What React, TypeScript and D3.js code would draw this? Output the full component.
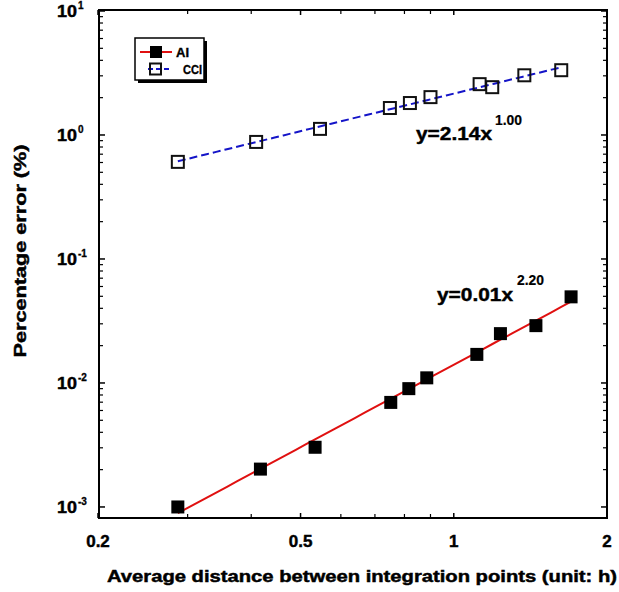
import React from "react";
import * as d3 from "d3";

// ---- data ----
const aiX = [0.287, 0.417, 0.534, 0.752, 0.816, 0.885, 1.11, 1.235, 1.45, 1.70];
const aiY = [0.001, 0.00202, 0.00303, 0.00697, 0.0090, 0.011, 0.017, 0.025, 0.029, 0.0495];
const cciX = [0.287, 0.409, 0.546, 0.749, 0.82, 0.90, 1.124, 1.19, 1.376, 1.626];
const cciY = [0.607, 0.879, 1.12, 1.65, 1.81, 2.02, 2.57, 2.43, 3.03, 3.33];
const xTickLabels = [0.2, 0.5, 1, 2];
const xMinorTicks = [0.3, 0.4, 0.6, 0.7, 0.8, 0.9];
const yDecades = [-3, -2, -1, 0, 1];
const aiEquation = { base: "y=0.01x", exp: "2.20" };
const cciEquation = { base: "y=2.14x", exp: "1.00" };
const seriesNames = ["AI", "CCI"];

const W = 619, H = 592;
const L = 99, R = 607, T = 10, B = 518;
const FONT = "'Liberation Sans', Arial, sans-serif";
const RED = "#e01010";
const BLUE = "#1414c8";
const heavy = { fontWeight: "bold" as const, stroke: "#000", strokeWidth: 0.45 };

function fitPower(xs: number[], ys: number[]) {
  const lx = xs.map(Math.log10), ly = ys.map(Math.log10);
  const mx = d3.mean(lx)!, my = d3.mean(ly)!;
  let sxy = 0, sxx = 0;
  lx.forEach((v, i) => { sxy += (v - mx) * (ly[i] - my); sxx += (v - mx) * (v - mx); });
  const b = sxy / sxx;
  const a = my - b * mx;
  return (x: number) => Math.pow(10, a + b * Math.log10(x));
}

export default function App() {
  const x = d3.scaleLog().domain([0.2, 2]).range([98, 607]);
  const y = d3.scaleLog().domain([Math.pow(10, -3.089), Math.pow(10, 1.008)]).range([B, T]);

  const aiFit = fitPower(aiX, aiY);
  const cciFit = fitPower(cciX, cciY);
  const lineGen = (f: (v: number) => number, xs: number[]) => {
    const lo = d3.min(xs)!, hi = d3.max(xs)!;
    const pts = d3.range(0, 41).map((i) => lo * Math.pow(hi / lo, i / 40));
    return d3.line<number>().x((v) => x(v)).y((v) => y(f(v)))(pts) || "";
  };

  const yMinor: number[] = [];
  yDecades.slice(0, -1).forEach((d) => {
    for (let k = 2; k <= 9; k++) yMinor.push(k * Math.pow(10, d));
  });

  const sq = 13;

  return (
    <svg width={W} height={H} style={{ position: "absolute", left: 0, top: 0, background: "#fff" }} fontFamily={FONT}>
      <rect x={0} y={0} width={W} height={H} fill="#fff" />
      {/* fit lines */}
      <path d={lineGen(aiFit, aiX)} fill="none" stroke={RED} strokeWidth={2} />
      <path d={lineGen(cciFit, cciX)} fill="none" stroke={BLUE} strokeWidth={2} strokeDasharray="8,4" />
      {/* markers */}
      {aiX.map((v, i) => (
        <rect key={"a" + i} x={x(v) - sq / 2} y={y(aiY[i]) - sq / 2} width={sq} height={sq} fill="#000" />
      ))}
      {cciX.map((v, i) => (
        <rect key={"c" + i} x={x(v) - 6} y={y(cciY[i]) - 6} width={12} height={12} fill="none" stroke="#111" strokeWidth={2} />
      ))}
      {/* frame */}
      <rect x={L} y={T} width={R - L} height={B - T} fill="none" stroke="#000" strokeWidth={2} />
      {/* y ticks */}
      {yDecades.map((d) => {
        const yy = y(Math.pow(10, d));
        return (
          <g key={"yd" + d}>
            <line x1={L} x2={L + 6} y1={yy} y2={yy} stroke="#000" strokeWidth={1.5} />
            <line x1={R} x2={R - 6} y1={yy} y2={yy} stroke="#000" strokeWidth={1.5} />
            <text x={77} y={yy + 6} textAnchor="end" fontSize={17} {...heavy} textLength={20} lengthAdjust="spacingAndGlyphs">10</text>
            <text x={78} y={yy - 1.5} fontSize={10} {...heavy} strokeWidth={0.3}>{String(d)}</text>
          </g>
        );
      })}
      {yMinor.map((v, i) => {
        const yy = y(v);
        return (
          <g key={"ym" + i}>
            <line x1={L} x2={L + 4} y1={yy} y2={yy} stroke="#000" strokeWidth={1.2} />
            <line x1={R} x2={R - 4} y1={yy} y2={yy} stroke="#000" strokeWidth={1.2} />
          </g>
        );
      })}
      {/* x ticks */}
      {xTickLabels.map((v) => (
        <g key={"xt" + v}>
          <line x1={x(v)} x2={x(v)} y1={B} y2={B - 5} stroke="#000" strokeWidth={1.5} />
          <line x1={x(v)} x2={x(v)} y1={T} y2={T + 5} stroke="#000" strokeWidth={1.5} />
          <text x={x(v)} y={547} textAnchor="middle" fontSize={17} {...heavy}>{String(v)}</text>
        </g>
      ))}
      {xMinorTicks.map((v) => (
        <g key={"xm" + v}>
          <line x1={x(v)} x2={x(v)} y1={B} y2={B - 4} stroke="#000" strokeWidth={1.2} />
          <line x1={x(v)} x2={x(v)} y1={T} y2={T + 4} stroke="#000" strokeWidth={1.2} />
        </g>
      ))}
      {/* axis titles */}
      <text x={362} y={582} textAnchor="middle" fontSize={16} {...heavy} textLength={510} lengthAdjust="spacingAndGlyphs">
        Average distance between integration points (unit: h)
      </text>
      <text transform="translate(26,251) rotate(-90)" textAnchor="middle" fontSize={16} {...heavy} textLength={213} lengthAdjust="spacingAndGlyphs">
        Percentage error (%)
      </text>
      {/* equations */}
      <text x={416} y={140} fontSize={19} {...heavy} textLength={76} lengthAdjust="spacingAndGlyphs">{cciEquation.base}</text>
      <text x={495} y={125} fontSize={14} {...heavy} strokeWidth={0.2} textLength={27} lengthAdjust="spacingAndGlyphs">{cciEquation.exp}</text>
      <text x={437} y={301} fontSize={19} {...heavy} textLength={76} lengthAdjust="spacingAndGlyphs">{aiEquation.base}</text>
      <text x={517} y={285} fontSize={14} {...heavy} strokeWidth={0.2} textLength={27} lengthAdjust="spacingAndGlyphs">{aiEquation.exp}</text>
      {/* legend */}
      <rect x={138} y={41} width={69} height={42} fill="#000" />
      <rect x={135} y={38} width={69} height={42} fill="#fff" stroke="#000" strokeWidth={1.5} />
      <line x1={140} x2={172} y1={52} y2={52} stroke={RED} strokeWidth={2} />
      <rect x={150} y={46} width={12} height={12} fill="#000" />
      <text x={176} y={57} fontSize={13} {...heavy} strokeWidth={0.35}>{seriesNames[0]}</text>
      <line x1={148} x2={170} y1={69} y2={69} stroke={BLUE} strokeWidth={2} strokeDasharray="5,3" />
      <rect x={150} y={63.5} width={11} height={11} fill="none" stroke="#111" strokeWidth={2} />
      <text x={183} y={74} fontSize={13} {...heavy} strokeWidth={0.35} textLength={19} lengthAdjust="spacingAndGlyphs">{seriesNames[1]}</text>
    </svg>
  );
}
